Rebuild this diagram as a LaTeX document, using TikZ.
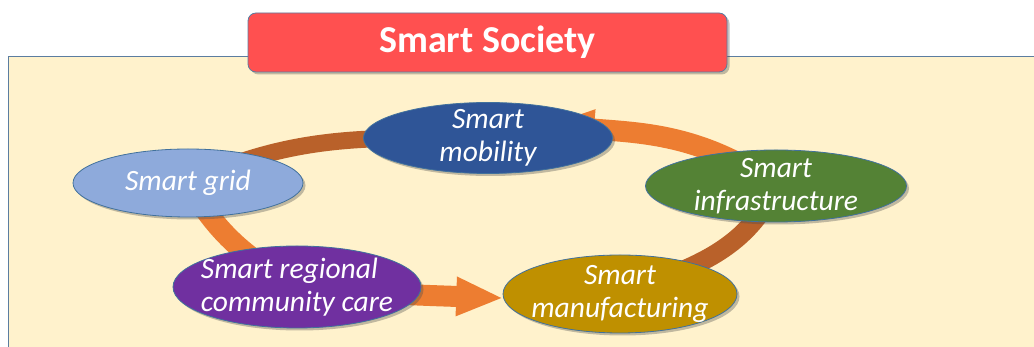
\documentclass[tikz,border=0pt]{standalone}
\usepackage{fontspec}
\setmainfont{Carlito}
\usepackage{tikz}
\usetikzlibrary{shapes.geometric}
\usetikzlibrary{arrows.meta,shadows}
\definecolor{paper}{HTML}{FFF2CC}
\definecolor{frame}{HTML}{5B7DA0}
\definecolor{edge}{HTML}{41719C}
\definecolor{titlered}{HTML}{FF5050}
\definecolor{ringlight}{HTML}{ED7D31}
\definecolor{ringdark}{HTML}{B9612A}
\definecolor{gridblue}{HTML}{8EAADB}
\definecolor{mobblue}{HTML}{2F5597}
\definecolor{infragreen}{HTML}{548235}
\definecolor{carepurple}{HTML}{7030A0}
\definecolor{manugold}{HTML}{BF9000}
\pgfdeclarelayer{back}
\pgfdeclarelayer{ring}
\pgfsetlayers{back,ring,main}

\begin{document}
\begin{tikzpicture}[x=1pt,y=1pt,
  softshadow/.style={drop shadow={shadow xshift=2.5pt,shadow yshift=-2.5pt,opacity=0.35,fill=black!70}},
  blob/.style={ellipse,draw=edge,line width=0.8pt,text=white,inner xsep=-18pt,inner ysep=-13pt,
    align=center,font=\itshape\fontsize{29.5}{33}\selectfont,softshadow},
  band/.style={draw=ringlight,line width=21pt},
  backband/.style={draw=ringdark,line width=17pt},
  head/.style={-{Triangle[length=47pt,width=36pt]}}]
\useasboundingbox (0,0) rectangle (1034,347);
\node[rectangle,rounded corners=8pt,fill=titlered,draw=frame,line width=0.8pt,softshadow,
  minimum width=479pt,minimum height=59pt,text=white,font=\bfseries\fontsize{38}{42}\selectfont]
  (title) at (487.5,304.5) {Smart Society};
\node[blob,fill=gridblue,minimum width=230pt,minimum height=68pt] (grid) at (188,164) {Smart grid};
\node[blob,fill=mobblue,minimum width=249pt,minimum height=71pt] (mob) at (488,209) {Smart\\mobility};
\node[blob,fill=infragreen,minimum width=261pt,minimum height=72pt] (infra) at (776,161) {Smart\\infrastructure};
\node[blob,fill=carepurple,minimum width=248pt,minimum height=82pt,align=left] (care) at (297,60) {Smart regional\\community care};
\node[blob,fill=manugold,minimum width=234pt,minimum height=78pt] (manu) at (620,53) {Smart\\manufacturing};
\coordinate (mobtip) at ([shift={(59,13)}]mob.center);
\begin{pgfonlayer}{back}
\draw[fill=paper,draw=frame,line width=0.8pt] (8,-10) rectangle (1050,291);
\end{pgfonlayer}
\begin{pgfonlayer}{ring}
\draw[backband] (mob.center) to[out=180,in=25] (grid.center);
\draw[backband,line width=19pt] (manu.center) to[out=20,in=245] (infra.center);
\draw[band,head] (infra.center) to[out=145,in=355] (mobtip);
\draw[band] (grid.center) to[out=-60,in=150] (care.center);
\draw[band,head] (care.center) to[out=-5,in=178] (manu.182);
\end{pgfonlayer}
\end{tikzpicture}
\end{document}
